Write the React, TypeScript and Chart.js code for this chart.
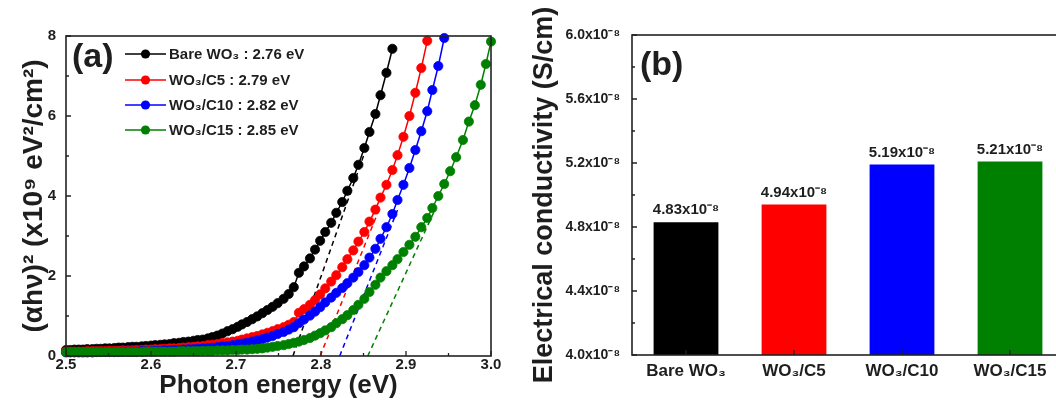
import React, { useEffect, useRef } from "react";
import { Chart, registerables } from "chart.js";

Chart.register(...registerables);

const FONT = 'Arial, "Liberation Sans", Helvetica, sans-serif';
const TEXT = "#1e1e1e";

// ---------- Panel (a): Tauc plot ----------
const photonEnergy = [
  2.500, 2.505, 2.510, 2.515, 2.520, 2.525, 2.531, 2.536, 2.541, 2.546,
  2.551, 2.557, 2.562, 2.567, 2.573, 2.578, 2.583, 2.589, 2.594, 2.600,
  2.605, 2.611, 2.616, 2.622, 2.627, 2.633, 2.638, 2.644, 2.650, 2.655,
  2.661, 2.667, 2.672, 2.678, 2.684, 2.690, 2.696, 2.702, 2.707, 2.713,
  2.719, 2.725, 2.731, 2.737, 2.743, 2.749, 2.756, 2.762, 2.768, 2.774,
  2.780, 2.787, 2.793, 2.799, 2.805, 2.812, 2.818, 2.825, 2.831, 2.838,
  2.844, 2.851, 2.857, 2.864, 2.870, 2.877, 2.884, 2.890, 2.897, 2.904,
  2.911, 2.918, 2.925, 2.931, 2.938, 2.945, 2.952, 2.959, 2.967, 2.974,
  2.981, 2.988, 2.994, 3.000,
];

const bareWO3 = [
  0.15, 0.15, 0.16, 0.16, 0.16, 0.17, 0.17, 0.18, 0.18, 0.19,
  0.19, 0.20, 0.21, 0.21, 0.22, 0.23, 0.23, 0.24, 0.25, 0.26,
  0.27, 0.28, 0.29, 0.30, 0.32, 0.33, 0.35, 0.36, 0.38, 0.40,
  0.41, 0.44, 0.47, 0.51, 0.56, 0.62, 0.67, 0.73, 0.79, 0.85,
  0.92, 0.99, 1.07, 1.15, 1.23, 1.32, 1.43, 1.55, 1.72, 2.08,
  2.24, 2.44, 2.66, 2.88, 3.10, 3.33, 3.58, 3.85, 4.13, 4.45,
  4.78, 5.20, 5.60, 6.05, 6.52, 7.08, 7.68,
];

const wo3C5 = [
  0.11, 0.11, 0.11, 0.11, 0.11, 0.12, 0.12, 0.12, 0.12, 0.12,
  0.13, 0.13, 0.13, 0.14, 0.14, 0.14, 0.15, 0.15, 0.16, 0.16,
  0.17, 0.17, 0.18, 0.19, 0.19, 0.20, 0.21, 0.22, 0.23, 0.24,
  0.25, 0.27, 0.28, 0.30, 0.32, 0.34, 0.36, 0.38, 0.41, 0.44,
  0.47, 0.50, 0.54, 0.58, 0.62, 0.67, 0.72, 0.78, 0.85, 1.08,
  1.17, 1.28, 1.40, 1.54, 1.69, 1.86, 2.02, 2.22, 2.42, 2.64,
  2.86, 3.10, 3.36, 3.66, 3.96, 4.28, 4.65, 5.02, 5.48, 6.00,
  6.58, 7.20, 7.88,
];

const wo3C10 = [
  0.09, 0.09, 0.09, 0.09, 0.09, 0.09, 0.09, 0.10, 0.10, 0.10,
  0.10, 0.10, 0.10, 0.11, 0.11, 0.11, 0.11, 0.12, 0.12, 0.12,
  0.13, 0.13, 0.14, 0.14, 0.15, 0.15, 0.16, 0.17, 0.17, 0.18,
  0.19, 0.20, 0.21, 0.22, 0.24, 0.25, 0.27, 0.29, 0.31, 0.33,
  0.36, 0.39, 0.42, 0.46, 0.50, 0.55, 0.60, 0.66, 0.72, 0.82,
  0.91, 1.01, 1.11, 1.22, 1.34, 1.46, 1.58, 1.70, 1.82, 1.96,
  2.10, 2.27, 2.46, 2.68, 2.93, 3.22, 3.55, 3.90, 4.28, 4.70,
  5.15, 5.62, 6.12, 6.65, 7.25, 7.95,
];

const wo3C15 = [
  0.10, 0.10, 0.10, 0.10, 0.10, 0.10, 0.10, 0.10, 0.10, 0.10,
  0.10, 0.10, 0.10, 0.10, 0.10, 0.10, 0.10, 0.10, 0.11, 0.11,
  0.11, 0.11, 0.11, 0.11, 0.11, 0.12, 0.12, 0.12, 0.12, 0.12,
  0.13, 0.13, 0.13, 0.14, 0.14, 0.14, 0.15, 0.15, 0.16, 0.16,
  0.17, 0.18, 0.19, 0.21, 0.23, 0.25, 0.27, 0.30, 0.33, 0.36,
  0.40, 0.45, 0.51, 0.57, 0.64, 0.72, 0.82, 0.92, 1.02, 1.15,
  1.28, 1.43, 1.60, 1.78, 1.96, 2.12, 2.27, 2.42, 2.60, 2.78,
  2.98, 3.22, 3.45, 3.70, 4.00, 4.30, 4.62, 4.97, 5.40, 5.86,
  6.27, 6.78, 7.30, 7.86,
];

const seriesLabels = [
  "Bare WO\u2083 : 2.76 eV",
  "WO\u2083/C5 : 2.79 eV",
  "WO\u2083/C10 : 2.82 eV",
  "WO\u2083/C15 : 2.85 eV",
];
const seriesColors = ["#000000", "#ff0000", "#0000ff", "#008000"];

// tangent (band-gap extrapolation) lines
const fitStartEnergy = [2.767, 2.799, 2.822, 2.855];
const fitEndEnergy = [2.850, 2.870, 2.890, 2.935];
const fitEndValue = [5.0, 3.75, 3.65, 3.7];

const energyTicks = [2.5, 2.6, 2.7, 2.8, 2.9, 3.0];
const energyMinorTicks = [2.55, 2.65, 2.75, 2.85, 2.95];
const taucTicks = [0, 2, 4, 6, 8];
const taucMinorTicks = [1, 3, 5, 7];

// ---------- Panel (b): conductivity ----------
const samples = ["Bare WO\u2083", "WO\u2083/C5", "WO\u2083/C10", "WO\u2083/C15"];
const conductivity = [4.83, 4.94, 5.19, 5.21]; // x10^-8 S/cm
const conductivityLabels = ["4.83x10\u207B\u2078", "4.94x10\u207B\u2078", "5.19x10\u207B\u2078", "5.21x10\u207B\u2078"];
const barColors = ["#000000", "#ff0000", "#0000ff", "#008000"];
const conductivityTicks = [4.0, 4.4, 4.8, 5.2, 5.6, 6.0];
const conductivityMinorTicks = [4.2, 4.6, 5.0, 5.4, 5.8];

function drawFrameAndTicks(chart: any, xMajor: number[] | null, xMinor: number[], yMajor: number[], yMinor: number[]) {
  const { ctx, chartArea: a } = chart;
  const xs = chart.scales.x;
  const ys = chart.scales.y;
  ctx.save();
  ctx.strokeStyle = "#222";
  ctx.lineWidth = 1.6;
  ctx.strokeRect(a.left, a.top, a.right - a.left, a.bottom - a.top);
  ctx.lineWidth = 1.3;
  ctx.beginPath();
  const xPix: number[] = xMajor ? xMajor.map((v) => xs.getPixelForValue(v)) : samples.map((_, i) => xs.getPixelForTick(i));
  xPix.forEach((p) => { ctx.moveTo(p, a.bottom); ctx.lineTo(p, a.bottom - 5); });
  xMinor.forEach((v) => { const p = xs.getPixelForValue(v); ctx.moveTo(p, a.bottom); ctx.lineTo(p, a.bottom - 3); });
  yMajor.forEach((v) => { const p = ys.getPixelForValue(v); ctx.moveTo(a.left, p); ctx.lineTo(a.left + 5, p); });
  yMinor.forEach((v) => { const p = ys.getPixelForValue(v); ctx.moveTo(a.left, p); ctx.lineTo(a.left + 3, p); });
  ctx.stroke();
  ctx.restore();
}

function SpectraChart() {
  const ref = useRef<HTMLCanvasElement>(null);
  useEffect(() => {
    const canvas = ref.current!;
    const lineSets = [bareWO3, wo3C5, wo3C10, wo3C15].map((vals, i) => ({
      label: seriesLabels[i],
      data: vals.map((v, j) => ({ x: photonEnergy[j], y: v })),
      borderColor: seriesColors[i],
      backgroundColor: seriesColors[i],
      pointBackgroundColor: seriesColors[i],
      pointBorderColor: seriesColors[i],
      pointRadius: 4.6,
      pointBorderWidth: 0.8,
      borderWidth: 1.5,
      showLine: true,
      clip: false as any,
      order: 4 - i,
    }));
    const fitSets = fitStartEnergy.map((x0, i) => ({
      label: "fit",
      data: [{ x: x0, y: 0 }, { x: fitEndEnergy[i], y: fitEndValue[i] }],
      borderColor: seriesColors[i],
      backgroundColor: seriesColors[i],
      borderDash: [5, 4],
      borderWidth: 1.5,
      pointRadius: 0,
      showLine: true,
      order: 10,
    }));
    const deco = {
      id: "decoA",
      afterDraw(chart: any) {
        drawFrameAndTicks(chart, energyTicks, energyMinorTicks, taucTicks, taucMinorTicks);
        const { ctx } = chart;
        ctx.save();
        ctx.fillStyle = TEXT;
        ctx.font = `bold 34px ${FONT}`;
        ctx.textBaseline = "alphabetic";
        ctx.textAlign = "left";
        ctx.fillText("(a)", 72, 67);
        const rows = [54, 80, 105, 130];
        seriesLabels.forEach((lab, i) => {
          const y = rows[i];
          ctx.strokeStyle = seriesColors[i];
          ctx.lineWidth = 1.5;
          ctx.beginPath();
          ctx.moveTo(125, y);
          ctx.lineTo(166, y);
          ctx.stroke();
          ctx.fillStyle = seriesColors[i];
          ctx.beginPath();
          ctx.arc(145.5, y, 4.6, 0, Math.PI * 2);
          ctx.fill();
          ctx.fillStyle = TEXT;
          ctx.font = `bold 15px ${FONT}`;
          ctx.textBaseline = "middle";
          ctx.fillText(lab, 169, y + 1);
        });
        ctx.restore();
      },
    };
    const chart = new Chart(canvas, {
      type: "scatter",
      data: { datasets: [...lineSets, ...fitSets] as any },
      options: {
        responsive: false,
        animation: false,
        devicePixelRatio: 1,
        layout: { padding: { top: 36, right: 33, left: 0, bottom: 0 } },
        plugins: { legend: { display: false }, tooltip: { enabled: false } },
        scales: {
          x: {
            type: "linear",
            min: 2.5,
            max: 3.0,
            afterFit: (s: any) => { s.height = 59; },
            afterBuildTicks: (s: any) => { s.ticks = energyTicks.map((v) => ({ value: v })); },
            ticks: {
              autoSkip: false,
              maxRotation: 0,
              padding: 0,
              color: TEXT,
              font: { family: FONT, size: 15, weight: "bold" },
              callback: (v: any) => Number(v).toFixed(1),
            },
            grid: { display: false, drawTicks: false },
            border: { display: false },
            title: {
              display: true,
              text: "Photon energy (eV)",
              color: TEXT,
              font: { family: FONT, size: 26, weight: "bold" },
              padding: { top: 0, bottom: 14 },
            },
          },
          y: {
            type: "linear",
            min: 0,
            max: 8,
            afterFit: (s: any) => { s.width = 66; },
            afterBuildTicks: (s: any) => { s.ticks = taucTicks.map((v) => ({ value: v })); },
            ticks: {
              padding: 10,
              color: TEXT,
              font: { family: FONT, size: 15, weight: "bold" },
              callback: (v: any) => String(v),
            },
            grid: { display: false, drawTicks: false },
            border: { display: false },
            title: {
              display: true,
              text: "(\u03B1h\u03BD)\u00B2 (x10\u2079 eV\u00B2/cm\u00B2)",
              color: TEXT,
              font: { family: FONT, size: 28, weight: "bold" },
              padding: { top: 17, bottom: 0 },
            },
          },
        },
      } as any,
      plugins: [deco],
    });
    return () => chart.destroy();
  }, []);
  return (
    <canvas
      ref={ref}
      width={524}
      height={415}
      style={{ position: "absolute", left: 0, top: 0, width: 524, height: 415 }}
    />
  );
}

function ConductivityChart() {
  const ref = useRef<HTMLCanvasElement>(null);
  useEffect(() => {
    const canvas = ref.current!;
    const deco = {
      id: "decoB",
      afterDraw(chart: any) {
        drawFrameAndTicks(chart, null, [], conductivityTicks, conductivityMinorTicks);
        const { ctx } = chart;
        ctx.save();
        ctx.fillStyle = TEXT;
        ctx.font = `bold 34px ${FONT}`;
        ctx.textAlign = "left";
        ctx.textBaseline = "alphabetic";
        ctx.fillText("(b)", 116, 75);
        const meta = chart.getDatasetMeta(0);
        ctx.font = `bold 15px ${FONT}`;
        ctx.textAlign = "center";
        ctx.textBaseline = "middle";
        meta.data.forEach((el: any, i: number) => {
          ctx.fillText(conductivityLabels[i], el.x, el.y - 12);
        });
        ctx.restore();
      },
    };
    const chart = new Chart(canvas, {
      type: "bar",
      data: {
        labels: samples,
        datasets: [
          {
            label: "Electrical conductivity",
            data: conductivity,
            backgroundColor: barColors,
            borderWidth: 0,
            barPercentage: 0.6,
            categoryPercentage: 1,
          },
        ],
      },
      options: {
        responsive: false,
        animation: false,
        devicePixelRatio: 1,
        layout: { padding: { top: 35, right: 6, left: 0, bottom: 0 } },
        plugins: { legend: { display: false }, tooltip: { enabled: false } },
        scales: {
          x: {
            type: "category",
            afterFit: (s: any) => { s.height = 60; },
            ticks: {
              padding: 6,
              color: TEXT,
              font: { family: FONT, size: 17, weight: "bold" },
              maxRotation: 0,
              autoSkip: false,
            },
            grid: { display: false, drawTicks: false },
            border: { display: false },
          },
          y: {
            type: "linear",
            min: 4.0,
            max: 6.0,
            afterFit: (s: any) => { s.width = 108; },
            afterBuildTicks: (s: any) => { s.ticks = conductivityTicks.map((v) => ({ value: v })); },
            ticks: {
              padding: 12,
              color: TEXT,
              font: { family: FONT, size: 14, weight: "bold" },
              callback: (v: any) => Number(v).toFixed(1) + "x10\u207B\u2078",
            },
            grid: { display: false, drawTicks: false },
            border: { display: false },
            title: {
              display: true,
              text: "Electrical conductivity (S/cm)",
              color: TEXT,
              font: { family: FONT, size: 27, weight: "bold" },
              padding: { top: 4, bottom: 0 },
            },
          },
        },
      } as any,
      plugins: [deco],
    });
    return () => chart.destroy();
  }, []);
  return (
    <canvas
      ref={ref}
      width={546}
      height={415}
      style={{ position: "absolute", left: 524, top: 0, width: 546, height: 415 }}
    />
  );
}

export default function App() {
  return (
    <div
      style={{
        position: "fixed",
        left: 0,
        top: 0,
        width: 1056,
        height: 415,
        overflow: "hidden",
        background: "#ffffff",
      }}
    >
      <SpectraChart />
      <ConductivityChart />
    </div>
  );
}
